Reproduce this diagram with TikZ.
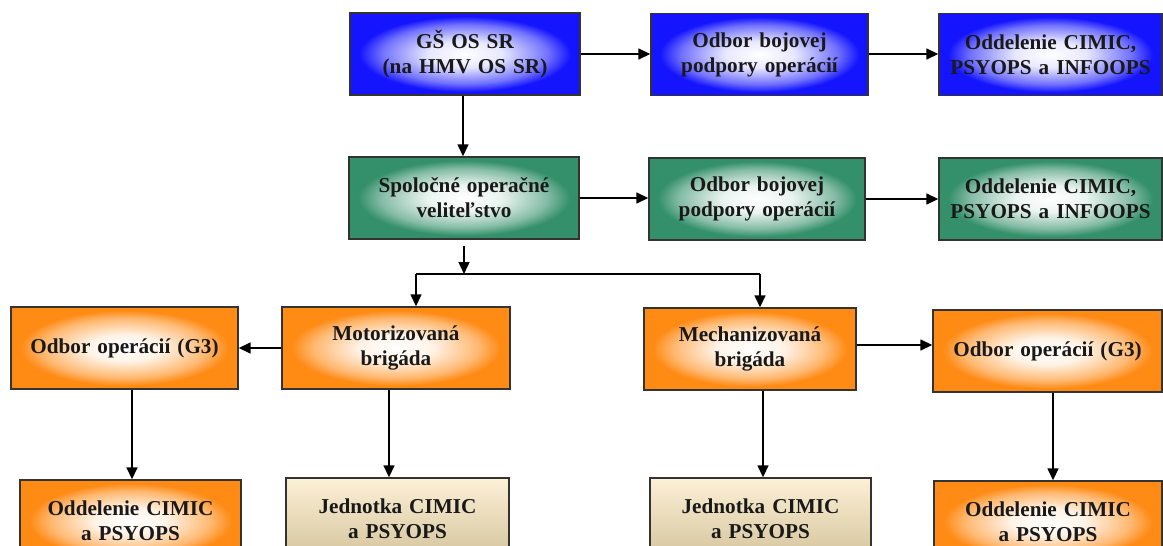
\documentclass[tikz,border=0pt]{standalone}
\usepackage{fontspec}
\setmainfont{Liberation Serif}
\usetikzlibrary{arrows.meta,positioning,calc}
\definecolor{cmdblue}{HTML}{1414FF}
\definecolor{cmdgreen}{HTML}{34906A}
\definecolor{unitorange}{HTML}{FF8A14}
\definecolor{beigetop}{HTML}{FCF0D6}
\definecolor{beigebot}{HTML}{D4C49C}
\definecolor{edgegray}{HTML}{333333}
\pgfdeclareradialshading{glowblue}{\pgfpoint{0bp}{0bp}}{color(0bp)=(white); color(8bp)=(white!90!cmdblue); color(18bp)=(white!40!cmdblue); color(23bp)=(cmdblue); color(50bp)=(cmdblue)}
\pgfdeclareradialshading{glowgreen}{\pgfpoint{0bp}{0bp}}{color(0bp)=(white); color(8bp)=(white!90!cmdgreen); color(18bp)=(white!40!cmdgreen); color(23bp)=(cmdgreen); color(50bp)=(cmdgreen)}
\pgfdeclareradialshading{gloworange}{\pgfpoint{0bp}{0bp}}{color(0bp)=(white); color(8bp)=(white!90!unitorange); color(18bp)=(white!40!unitorange); color(23bp)=(unitorange); color(50bp)=(unitorange)}
\newcommand{\boxfont}{\fontsize{10.6}{12.5}\selectfont\bfseries\spaceskip=0.33em\relax}
\tikzset{
  box/.style={draw=edgegray, line width=0.7pt, align=center, minimum height=41pt, inner sep=2pt,
              font=\boxfont, text=black!90},
  bluebox/.style={box, shading=glowblue},
  greenbox/.style={box, shading=glowgreen},
  orangebox/.style={box, shading=gloworange},
  beigebox/.style={box, top color=beigetop, bottom color=beigebot},
  arr/.style={-{Triangle[length=6pt,width=5.5pt]}, line width=0.75pt},
  link/.style={line width=0.75pt},
}

\begin{document}
\begin{tikzpicture}[x=0.5pt, y=-0.5pt]
  \useasboundingbox (0,0) rectangle (1163,546);
  \clip (0,0) rectangle (1163,546);
  % general staff level
  \node[bluebox, minimum width=115pt] (gs) at (465,54) {GŠ OS SR\\(na HMV OS SR)};
  \node[bluebox, minimum width=108.5pt] (gsodbor) at (759.5,54.5) {Odbor bojovej\\podpory operácií};
  \node[bluebox, minimum width=111.5pt] (gsodd) at (1050.5,54.5) {Oddelenie CIMIC,\\PSYOPS a INFOOPS};
  % joint operations command
  \node[greenbox, minimum width=115pt] (spol) at (464,198) {Spoločné operačné\\veliteľstvo};
  \node[greenbox, minimum width=108pt] (spolodbor) at (757,199) {Odbor bojovej\\podpory operácií};
  \node[greenbox, minimum width=111.5pt] (spolodd) at (1050.5,199) {Oddelenie CIMIC,\\PSYOPS a INFOOPS};
  % brigades
  \node[orangebox, minimum width=113.5pt] (odborL) at (124.5,348) {Odbor operácií (G3)};
  \node[orangebox, minimum width=114pt] (motor) at (396,348) {Motorizovaná\\brigáda};
  \node[orangebox, minimum width=106pt] (mech) at (750,349) {Mechanizovaná\\brigáda};
  \node[orangebox, minimum width=114.5pt] (odborR) at (1047.5,351) {Odbor operácií (G3)};
  % bottom row
  \node[orangebox, minimum width=110.5pt] (oddL) at (130.5,521) {Oddelenie CIMIC\\a PSYOPS};
  \node[beigebox, minimum width=111.5pt] (jedL) at (397.5,519) {Jednotka CIMIC\\a PSYOPS};
  \node[beigebox, minimum width=110.5pt] (jedR) at (760.5,519) {Jednotka CIMIC\\a PSYOPS};
  \node[orangebox, minimum width=114pt] (oddR) at (1048,522) {Oddelenie CIMIC\\a PSYOPS};

  \coordinate (fork) at (464,274);
  \coordinate (forkL) at (416,274);
  \coordinate (forkR) at (760,274);

  \draw[arr] (gs.east |- 0,54) -- (gsodbor.west |- 0,54);
  \draw[arr] (gsodbor.east |- 0,54) -- (gsodd.west |- 0,54);
  \draw[arr] (gs.south -| 463,0) -- (spol.north -| 463,0);
  \draw[arr] (spol.east |- 0,198) -- (spolodbor.west |- 0,198);
  \draw[arr] (spolodbor.east |- 0,199) -- (spolodd.west |- 0,199);
  \draw[arr, shorten <=3pt] (spol.south) -- (fork);
  \draw[link] (forkL) -- (forkR);
  \draw[arr] (forkL) -- (forkL |- motor.north);
  \draw[arr] (forkR) -- (forkR |- mech.north);
  \draw[arr] (motor) -- (odborL);
  \draw[arr] (mech.east |- 0,345) -- (odborR.west |- 0,345);
  \draw[arr] (odborL.south -| 132,0) -- (oddL.north -| 132,0);
  \draw[arr] (motor.south -| 389,0) -- (jedL.north -| 389,0);
  \draw[arr] (mech.south -| 763,0) -- (jedR.north -| 763,0);
  \draw[arr] (odborR.south -| 1053,0) -- (oddR.north -| 1053,0);
\end{tikzpicture}
\end{document}
